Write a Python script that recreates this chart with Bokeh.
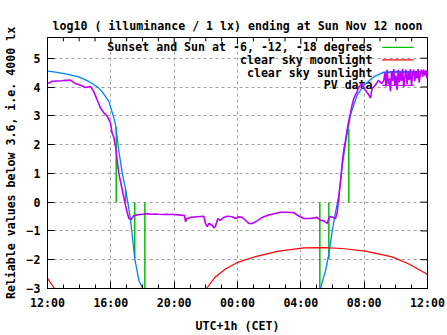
from bokeh.plotting import figure
from bokeh.models import FixedTicker, Range1d
from bokeh.core.properties import value
from bokeh.embed import file_html
from bokeh.resources import INLINE

# ---------------- data (hours after Sat 12:00 CET) ----------------
title_text = "log10 ( illuminance / 1 lx) ending at Sun Nov 12 noon"
x_label = "UTC+1h (CET)"
y_label = "Reliable values below 3.6, i.e. 4000 lx"

x_tick_hours = [0, 4, 8, 12, 16, 20, 24]
x_tick_labels = ["12:00", "16:00", "20:00", "00:00", "04:00", "08:00", "12:00"]
x_minor_hours = list(range(0, 25))
y_ticks = [-3, -2, -1, 0, 1, 2, 3, 4, 5]

legend_labels = ["Sunset and Sun at -6, -12, -18 degrees",
                 "clear sky moonlight", "clear sky sunlight", "PV data"]

# Sunset/sunrise and twilight markers (impulses from 0)
event_h = [4.34, 4.93, 5.51, 6.15, 17.20, 17.77, 18.40, 19.03]
event_v = [2.60, 0.45, -1.95, -3.60, -3.60, -1.98, 0.20, 2.55]

# Clear sky sunlight
sun_h = [0.0, 0.5, 1.14, 1.98, 2.5, 2.82, 3.2, 3.45, 3.87, 4.19, 4.29, 4.4,
         4.5, 4.72, 4.93, 5.07, 5.24, 5.35, 5.51, 5.77, 6.02, 6.3,
         17.1, 17.24, 17.56, 17.77, 17.98, 18.19, 18.4, 18.61, 18.82, 19.14,
         19.56, 19.98, 20.6, 21.24, 22.0, 23.0, 24.0]
sun_v = [4.55, 4.52, 4.46, 4.35, 4.22, 4.12, 3.98, 3.84, 3.50, 2.93, 2.70, 2.25,
         1.80, 1.01, 0.46, 0.0, -0.60, -1.15, -1.95, -2.72, -3.0, -3.8,
         -3.8, -3.0, -2.38, -1.81, -1.02, -0.35, 0.22, 1.24, 2.03, 3.04,
         3.72, 4.06, 4.35, 4.52, 4.54, 4.53, 4.53]

# Clear sky moonlight
moon_h = [0.0, 0.44, 0.6, 9.9, 10.04, 10.6, 11.24, 12.02, 13.14, 14.6, 16.19,
          17.5, 18.6, 20.08, 21.77, 22.82, 23.87, 24.0]
moon_v = [-2.65, -3.0, -3.4, -3.4, -3.0, -2.6, -2.32, -2.09, -1.89, -1.70, -1.59,
          -1.58, -1.61, -1.70, -1.90, -2.15, -2.47, -2.52]

# PV data
pv_h = [0.0, 0.15, 0.3, 0.6, 0.9, 1.14, 1.45, 1.6, 1.77, 2.08, 2.4, 2.55, 2.72,
        2.92, 3.14, 3.35, 3.56, 3.77, 3.98, 4.08, 4.19, 4.3, 4.4, 4.5, 4.67,
        4.82, 4.93, 5.03, 5.14, 5.28, 5.45, 5.6, 5.77, 6.0, 6.3, 6.5, 6.8, 7.0,
        7.3, 7.5, 8.0, 8.4, 8.65, 8.72, 8.8, 9.03, 9.45, 9.87, 9.98, 10.09, 10.2,
        10.4, 10.5, 10.6, 10.76, 10.9, 11.14, 11.35, 11.66, 11.87, 12.08, 12.3,
        12.5, 12.71, 12.93, 13.24, 13.56, 13.87, 14.3, 14.72, 15.14, 15.56,
        15.87, 16.19, 16.6, 17.03, 17.24, 17.45, 17.66, 17.81, 18.0, 18.19, 18.3,
        18.4, 18.5, 18.61, 18.71, 18.82, 18.93, 19.03, 19.14, 19.24, 19.35,
        19.56, 19.66, 19.87, 20.08, 20.3, 20.4, 20.5, 20.7, 20.9, 21.1, 21.24,
        21.31, 21.38, 21.45, 21.52, 21.59, 21.66, 21.73, 21.8, 21.87, 21.94,
        22.01, 22.08, 22.15, 22.22, 22.29, 22.36, 22.43, 22.5, 22.57, 22.64,
        22.71, 22.78, 22.85, 22.92, 22.99, 23.06, 23.13, 23.2, 23.27, 23.34,
        23.41, 23.48, 23.55, 23.62, 23.69, 23.76, 23.83, 23.9, 23.97, 24.0]
pv_v = [4.13, 4.15, 4.20, 4.21, 4.22, 4.23, 4.24, 4.18, 4.12, 4.06, 3.98, 4.00,
        4.02, 3.84, 3.55, 3.27, 3.10, 2.99, 2.75, 2.40, 2.25, 1.92, 1.46, 1.01,
        0.56, 0.16, -0.12, -0.35, -0.57, -0.60, -0.47, -0.45, -0.43, -0.42,
        -0.40, -0.42, -0.41, -0.42, -0.43, -0.42, -0.43, -0.45, -0.46, -0.68,
        -0.57, -0.53, -0.51, -0.49, -0.74, -0.85, -0.74, -0.80, -0.89, -0.85,
        -0.57, -0.63, -0.53, -0.49, -0.51, -0.57, -0.51, -0.53, -0.63, -0.74,
        -0.74, -0.65, -0.53, -0.46, -0.40, -0.35, -0.35, -0.37, -0.48, -0.57,
        -0.57, -0.53, -0.63, -0.65, -0.74, -0.51, -0.52, -0.57, -0.35, 0.22,
        0.67, 1.35, 1.80, 2.14, 2.54, 2.82, 3.10, 3.38, 3.61, 3.84, 4.00, 4.12,
        3.89, 3.72, 3.61, 3.95, 4.06, 4.23, 4.12, 4.23,
        4.50, 4.02, 4.60, 4.10, 4.30, 3.85, 4.55, 4.20, 4.62, 4.05, 4.40, 3.90,
        4.60, 4.15, 4.50, 4.20, 4.63, 4.00, 4.35, 4.60, 4.10, 4.50, 4.25, 4.62,
        4.05, 4.45, 4.60, 4.20, 4.55, 4.30, 4.62, 4.15, 4.50, 4.60, 4.35, 4.60,
        4.40, 4.58, 4.30, 4.55]

# ---------------- styling ----------------
FONT = "DejaVu Sans Mono"
FS = "11.6px"
C_GREEN = "#00c000"
C_RED = "#ff0000"
C_BLUE = "#0080ff"
C_PURPLE = "#c000ff"
GRID = "#a0a0a0"

X0, X1 = 0, 24
Y0, Y1 = -3, 5.72
FRAME_W, FRAME_H = 380, 258

p = figure(width=447, height=335, output_backend="svg", toolbar_location=None,
           x_range=Range1d(X0, X1), y_range=Range1d(Y0, Y1),
           min_border_left=47, min_border_right=20, min_border_top=37,
           min_border_bottom=40, title=title_text)

p.title.align = "center"
p.title.text_font = FONT
p.title.text_font_size = FS
p.title.text_font_style = "bold"
p.title.text_color = "black"
p.title.offset = 0

p.outline_line_color = "black"
p.outline_line_width = 1
p.background_fill_color = "white"
p.border_fill_color = "white"

xt = FixedTicker(ticks=x_tick_hours, minor_ticks=x_minor_hours)
yt = FixedTicker(ticks=y_ticks, minor_ticks=[])

xa = p.xaxis[0]
xa.ticker = xt
xa.major_label_overrides = {h: l for h, l in zip(x_tick_hours, x_tick_labels)}
ya = p.yaxis[0]
ya.ticker = yt
xa.axis_label = x_label
ya.axis_label = y_label

for ax in (xa, ya):
    ax.major_label_text_font = FONT
    ax.major_label_text_font_size = FS
    ax.major_label_text_font_style = "bold"
    ax.major_label_text_color = "black"
    ax.axis_label_text_font = FONT
    ax.axis_label_text_font_size = FS
    ax.axis_label_text_font_style = "bold"
    ax.axis_label_text_color = "black"
    ax.major_tick_in = 7
    ax.major_tick_out = 0
    ax.minor_tick_in = 4
    ax.minor_tick_out = 0
    ax.major_label_standoff = 7
    ax.axis_label_standoff = 6
    ax.axis_line_color = "black"

p.xgrid.ticker = FixedTicker(ticks=x_tick_hours[1:-1])
p.ygrid.ticker = FixedTicker(ticks=y_ticks[1:])
for g in (p.xgrid, p.ygrid):
    g.grid_line_color = GRID
    g.grid_line_dash = "3 3"
    g.grid_line_width = 1

# mirrored tick marks on the top and right edges (from the tick lists)
major_len_x = 7 * (X1 - X0) / FRAME_W
major_len_y = 7 * (Y1 - Y0) / FRAME_H
minor_len_y = 4 * (Y1 - Y0) / FRAME_H
p.segment(x0=[X1] * len(y_ticks), x1=[X1 - major_len_x] * len(y_ticks),
          y0=y_ticks, y1=y_ticks, line_color="black", line_width=1)
top_len = [major_len_y if h in x_tick_hours else minor_len_y for h in x_minor_hours]
p.segment(x0=x_minor_hours, x1=x_minor_hours, y0=[Y1] * len(x_minor_hours),
          y1=[Y1 - d for d in top_len], line_color="black", line_width=1)

# ---------------- legend (gnuplot style: text then sample) ----------------
leg_text_x = 20.53
leg_x0, leg_x1 = 21.14, 23.13
leg_rows = [5.38, 4.94, 4.50, 4.06]
leg_colors = [C_GREEN, C_RED, C_BLUE, C_PURPLE]
p.text(x=[leg_text_x] * 4, y=leg_rows, text=legend_labels,
       text_align="right", text_baseline="middle", text_font=value(FONT),
       text_font_size=FS, text_font_style="bold", text_color="black")
p.segment(x0=[leg_x0] * 4, x1=[leg_x1] * 4, y0=leg_rows, y1=leg_rows,
          line_color=leg_colors, line_width=1.3)

# ---------------- series ----------------
p.segment(x0=event_h, x1=event_h, y0=[0] * len(event_h), y1=event_v,
          line_color=C_GREEN, line_width=1.5)
p.line(moon_h, moon_v, line_color=C_RED, line_width=1.2)
p.line(sun_h, sun_v, line_color=C_BLUE, line_width=1.3)
p.line(pv_h, pv_v, line_color=C_PURPLE, line_width=1.6)

open("out.html", "w").write(file_html(p, INLINE))
